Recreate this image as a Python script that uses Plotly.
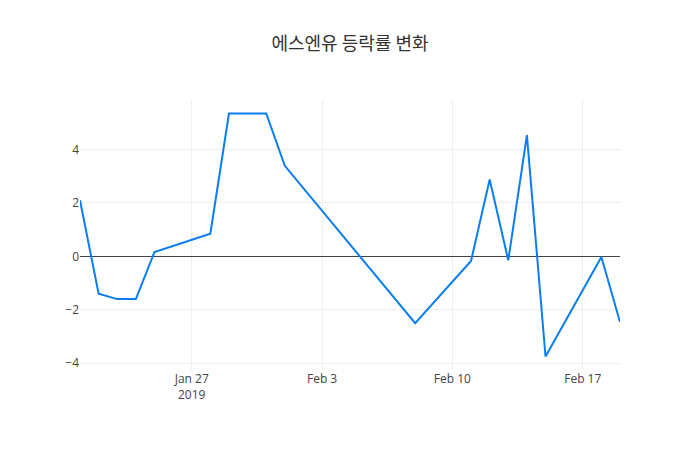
import plotly.graph_objects as go

dates = ["2019-01-21", "2019-01-22", "2019-01-23", "2019-01-24", "2019-01-25",
         "2019-01-28", "2019-01-29", "2019-01-30", "2019-01-31", "2019-02-01",
         "2019-02-08", "2019-02-11", "2019-02-12", "2019-02-13", "2019-02-14",
         "2019-02-15", "2019-02-18", "2019-02-19"]
rates = [2.1, -1.4, -1.6, -1.6, 0.16,
         0.85, 5.35, 5.35, 5.35, 3.39,
         -2.5, -0.17, 2.88, -0.15, 4.54,
         -3.75, -0.02, -2.46]

fig = go.Figure()
fig.add_trace(go.Scatter(x=dates, y=rates, mode="lines",
                         line=dict(color="rgb(10,125,240)", width=2)))
fig.update_layout(
    template="none",
    width=700, height=450,
    title=dict(text="에스엔유 등락률 변화", x=0.5, xanchor="center",
               font=dict(family="Noto Sans CJK KR", size=18, color="#333")),
    font=dict(family="Open Sans", size=12, color="#444"),
    margin=dict(l=80, r=80, t=100, b=80),
    xaxis=dict(showgrid=True, gridcolor="#eee", zeroline=False),
    yaxis=dict(showgrid=True, gridcolor="#eee", zeroline=True,
               zerolinecolor="#444", zerolinewidth=1, dtick=2),
    showlegend=False,
    plot_bgcolor="white", paper_bgcolor="white",
)
fig.write_html("out.html")
